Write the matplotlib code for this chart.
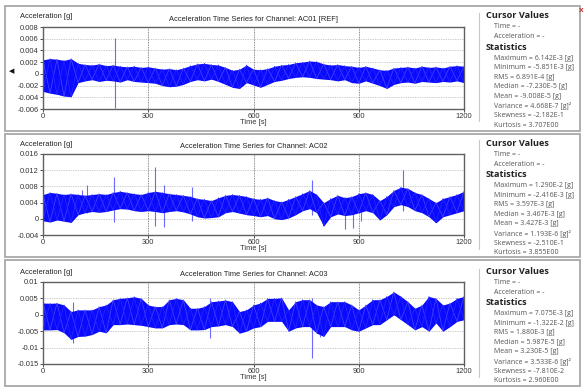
import matplotlib.pyplot as plt
from matplotlib.patches import Rectangle
from matplotlib.lines import Line2D

plt.rcParams['font.family'] = ['Liberation Sans', 'DejaVu Sans']

W, H = 584, 389

# envelope of each trace, read every 20 s, in milli-g
time_s = list(range(0, 1201, 20))

ac01_hi = [2.4, 2.6, 2.5, 2.3, 2.6, 1.8, 1.6, 1.5, 1.7, 1.4,
           1.5, 1.3, 1.2, 1.3, 1.1, 1.2, 1.0, 0.8, 0.9, 0.7,
           1.0, 1.4, 1.7, 1.8, 1.6, 1.5, 1.1, 0.6, 0.8, 1.5,
           0.8, 0.7, 0.9, 1.3, 1.5, 1.6, 1.9, 2.0, 2.2, 2.1,
           1.7, 1.5, 1.6, 1.4, 1.3, 1.1, 1.3, 1.0, 0.7, 0.6,
           1.0, 1.1, 1.2, 1.0, 1.3, 1.1, 1.2, 1.0, 1.3, 1.4, 1.3]
ac01_lo = [-3.0, -3.3, -3.5, -3.8, -3.9, -1.5, -1.2, -1.0, -1.3, -1.1,
           -1.2, -1.4, -1.0, -1.3, -1.4, -1.5, -1.6, -2.0, -2.2, -2.1,
           -1.8, -1.3, -1.0, -1.2, -0.9, -1.3, -1.8, -2.3, -2.5, -1.5,
           -1.9, -2.3, -1.8, -1.3, -1.1, -0.8, -0.6, -0.5, -0.6, -0.8,
           -0.9, -1.0, -1.2, -1.0, -1.5, -1.6, -1.2, -1.6, -2.0, -2.5,
           -1.8, -1.5, -1.4, -1.6, -1.3, -1.4, -1.5, -1.3, -1.4, -1.2, -1.5]

ac02_hi = [6.0, 6.5, 6.3, 6.0, 6.2, 6.0, 5.8, 6.0, 6.2, 6.0,
           6.5, 6.8, 6.5, 6.2, 6.0, 6.5, 6.8, 6.5, 6.2, 6.0,
           5.8, 5.5, 5.0, 4.8, 4.5, 5.2, 5.8, 6.0, 5.8, 5.5,
           5.0, 4.8, 5.2, 4.5, 4.2, 4.8, 5.5, 6.2, 7.0, 6.0,
           4.0, 5.0, 5.8, 5.2, 5.5, 6.2, 6.5, 6.0, 4.5, 5.5,
           7.0, 7.8, 7.5, 6.5, 6.0, 5.0, 4.0, 5.0, 5.5, 6.0, 6.8]
ac02_lo = [-0.5, -0.8, -0.3, -0.6, -0.9, 1.0, 1.5, 1.8, 1.6, 1.8,
           2.2, 2.5, 2.4, 2.0, 1.8, 2.0, 1.8, 1.5, 1.8, 2.0,
           1.7, 1.2, 0.5, 0.2, 0.3, 0.5, 1.5, 1.8, 1.4, 1.0,
           0.8, 0.5, 0.8, 0.0, -0.2, 0.2, 1.0, 2.0, 2.5, 1.5,
           -1.8, 0.5, 1.2, 0.8, 1.0, 1.5, 2.0, 1.5, -0.3, 1.0,
           3.0, 3.5, 3.0, 2.0, 1.5, 0.5, -1.0, 0.5, 1.0, 1.5, 2.0]

ac03_hi = [3.6, 3.5, 3.6, 3.0, 1.0, 1.5, 1.5, 1.5, 2.5, 3.0,
           4.6, 5.0, 5.2, 5.5, 5.0, 3.0, 2.5, 2.5, 4.6, 5.0,
           4.6, 2.0, 2.0, 2.5, 4.0, 4.2, 4.5, 4.0, 1.0, 1.5,
           3.0, 3.6, 5.0, 5.0, 5.2, 1.5, 4.0, 4.6, 4.6, 3.0,
           2.5, 4.0, 4.0, 4.0, 3.0, 1.5, 3.0, 4.6, 4.6, 5.6,
           7.0, 5.6, 4.0, 2.0, 3.0, 5.6, 5.0, 3.0, 3.6, 5.0, 5.6]
ac03_lo = [-4.6, -4.6, -4.5, -5.5, -7.5, -6.6, -6.5, -6.0, -5.0, -5.5,
           -3.0, -3.0, -2.8, -3.0, -3.2, -3.6, -4.0, -4.0, -3.0, -2.8,
           -3.0, -4.6, -4.6, -4.5, -3.6, -3.4, -3.0, -3.6, -5.6, -5.0,
           -4.0, -3.6, -2.0, -2.0, -2.0, -5.0, -4.0, -3.6, -3.6, -5.6,
           -6.6, -3.6, -3.6, -3.6, -4.6, -5.0, -4.0, -3.0, -3.0, -1.5,
           0.0, -1.5, -3.0, -4.6, -3.6, -5.0, -2.5, -5.0, -3.6, -2.0, -1.5]

# isolated spikes: time, low end, high end (milli-g)
ac01_spike_t = [205]
ac01_spike_lo = [-5.85]
ac01_spike_hi = [6.14]

ac02_spike_t = [110, 126, 202, 318, 345, 424, 766, 860, 883, 907, 1026]
ac02_spike_lo = [2.0, 1.5, -0.8, -1.9, -2.1, -0.5, 1.0, -2.4, -2.3, -0.5, 2.0]
ac02_spike_hi = [7.0, 8.4, 10.3, 12.9, 8.4, 7.8, 9.5, 5.5, 5.0, 5.5, 12.0]

ac03_spike_t = [85, 476, 768, 790]
ac03_spike_lo = [-8.7, -7.2, -13.22, -6.8]
ac03_spike_hi = [4.0, 5.0, 5.0, 2.5]

channels = ["AC01 [REF]", "AC02", "AC03"]
yticks = [[0.008, 0.006, 0.004, 0.002, 0, -0.002, -0.004, -0.006],
          [0.016, 0.012, 0.008, 0.004, 0, -0.004],
          [0.01, 0.005, 0, -0.005, -0.01, -0.015]]
ytick_labels = [["0.008", "0.006", "0.004", "0.002", "0", "-0.002", "-0.004", "-0.006"],
                ["0.016", "0.012", "0.008", "0.004", "0", "-0.004"],
                ["0.01", "0.005", "0", "-0.005", "-0.01", "-0.015"]]
xticks = [0, 300, 600, 900, 1200]

stats = [
    ["Maximum = 6.142E-3 [g]", "Minimum = -5.851E-3 [g]", "RMS = 6.891E-4 [g]",
     "Median = -7.230E-5 [g]", "Mean = -9.008E-5 [g]", "Variance = 4.668E-7 [g]²",
     "Skewness = -2.182E-1", "Kurtosis = 3.707E00"],
    ["Maximum = 1.290E-2 [g]", "Minimum = -2.416E-3 [g]", "RMS = 3.597E-3 [g]",
     "Median = 3.467E-3 [g]", "Mean = 3.427E-3 [g]", "Variance = 1.193E-6 [g]²",
     "Skewness = -2.510E-1", "Kurtosis = 3.855E00"],
    ["Maximum = 7.075E-3 [g]", "Minimum = -1.322E-2 [g]", "RMS = 1.880E-3 [g]",
     "Median = 5.987E-5 [g]", "Mean = 3.230E-5 [g]", "Variance = 3.533E-6 [g]²",
     "Skewness = -7.810E-2", "Kurtosis = 2.960E00"],
]

his = [ac01_hi, ac02_hi, ac03_hi]
los = [ac01_lo, ac02_lo, ac03_lo]
spikes = [(ac01_spike_t, ac01_spike_lo, ac01_spike_hi),
          (ac02_spike_t, ac02_spike_lo, ac02_spike_hi),
          (ac03_spike_t, ac03_spike_lo, ac03_spike_hi)]


def fx(px):
    return px / W


def fy(py):
    return 1 - py / H


fig = plt.figure(figsize=(W / 100, H / 100), dpi=100)
fig.patch.set_facecolor('white')

# panel frames
for top, bot in [(6, 131), (134, 257), (260, 386)]:
    fig.add_artist(Rectangle((fx(5), fy(bot)), fx(575), (bot - top) / H,
                             transform=fig.transFigure, facecolor='none',
                             edgecolor='#a8a8a8', lw=1.3, zorder=-1))

ax_tops = [27, 154, 282]
ax_bots = [109, 235, 364]
offsets = [0, 127.5, 255.5]
fs = 5.4
gray_txt = '#555555'
ui_font = ['Open Sans', 'DejaVu Sans']

for i in range(3):
    ax = fig.add_axes([fx(43), fy(ax_bots[i]), fx(421), (ax_bots[i] - ax_tops[i]) / H])
    hi = [v / 1000 for v in his[i]]
    lo = [v / 1000 for v in los[i]]
    ax.fill_between(time_s, lo, hi, color='#0a0aff', lw=0, zorder=2)
    zig = [hi[k] if k % 2 == 0 else lo[k] for k in range(len(time_s))]
    zag = [lo[k] if k % 2 == 0 else hi[k] for k in range(len(time_s))]
    ax.plot(time_s, zig, color='#4848ff', lw=0.5, zorder=3)
    ax.plot(time_s, zag, color='#2828ff', lw=0.5, zorder=3)
    st, slo, shi = spikes[i]
    ax.vlines(st, [v / 1000 for v in slo], [v / 1000 for v in shi],
              color='#6a6aff', lw=0.8, zorder=1.5)

    ax.set_xlim(0, 1200)
    ax.set_ylim(yticks[i][-1], yticks[i][0])
    ax.set_xticks(xticks)
    ax.set_xticklabels([str(t) for t in xticks])
    ax.set_yticks(yticks[i])
    ax.set_yticklabels(ytick_labels[i])
    ax.tick_params(labelsize=fs, length=2, width=0.6, pad=1, colors='#333333')
    ax.xaxis.grid(True, ls=(0, (1, 1)), color='#666666', lw=0.6)
    ax.yaxis.grid(True, ls=(0, (1, 1.5)), color='#999999', lw=0.5)
    ax.set_axisbelow(True)
    for sp in ax.spines.values():
        sp.set_color('#606060')
        sp.set_linewidth(1.0)
    ax.set_xlabel("Time [s]", fontsize=fs, labelpad=-1, color='#333333')
    ax.set_title("Acceleration Time Series for Channel: " + channels[i],
                 fontsize=fs, pad=4, color='#222222')
    fig.text(fx(20), fy(ax_tops[i] - 10), "Acceleration [g]", fontsize=fs,
             color='#222222', va='center', ha='left')

    # stats panel
    o = offsets[i]
    fig.add_artist(Line2D([fx(479), fx(479)], [fy(o + 13), fy(o + 121)],
                          transform=fig.transFigure, color='#c8c8c8', lw=0.8))
    fig.text(fx(486), fy(o + 16), "Cursor Values", fontsize=6.6, weight='bold',
             color='#222222', va='center', family=ui_font)
    fig.text(fx(494), fy(o + 27), "Time = -", fontsize=5, color=gray_txt,
             va='center', family=ui_font)
    fig.text(fx(494), fy(o + 37), "Acceleration = -", fontsize=5, color=gray_txt,
             va='center', family=ui_font)
    fig.text(fx(486), fy(o + 47), "Statistics", fontsize=6.6, weight='bold',
             color='#222222', va='center', family=ui_font)
    for k, line in enumerate(stats[i]):
        fig.text(fx(494), fy(o + 58 + 9.6 * k), line, fontsize=5, color=gray_txt,
                 va='center', family=ui_font)

fig.text(fx(12), fy(71), "◀", fontsize=5, color='#111111', ha='center', va='center',
         family=['DejaVu Sans'])
fig.text(fx(581), fy(11), "x", fontsize=6, color='#c03030', ha='center', va='center',
         weight='bold')

fig.savefig("out.png", dpi=100)
